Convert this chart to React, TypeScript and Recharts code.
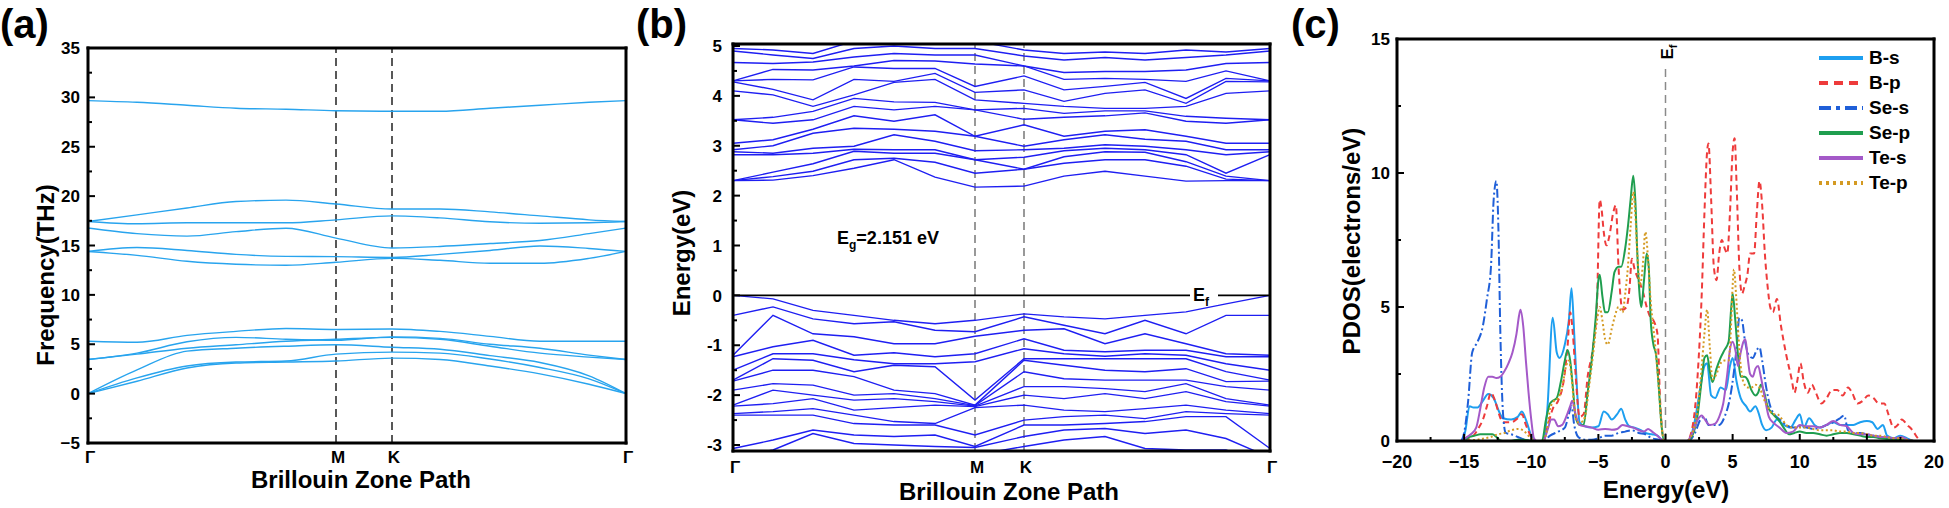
import React from "react";
import { LineChart, Line, XAxis, YAxis, ReferenceLine, Legend } from "recharts";

const W = 1949;
const H = 508;
const FONT = '"Liberation Sans", Arial, Helvetica, sans-serif';
const MINUS = "\u2212";

// ---------- (a) phonon dispersion ----------
const phononK = [0, 49, 99, 148, 198, 248, 304, 352, 402, 452, 501, 538];
const pathTicksA = [0, 248, 304, 538];
const pathLabels = ["Γ", "M", "K", "Γ"];
const phononBands = [
  [0, 1.25, 2.6, 3.1, 3.2, 3.3, 3.6, 3.45, 2.8, 2.0, 0.95, 0],
  [0, 1.6, 2.8, 3.2, 3.3, 4.0, 4.2, 4.1, 3.5, 2.65, 1.5, 0],
  [0, 2.4, 4.3, 4.6, 4.8, 4.95, 4.7, 4.5, 3.85, 3.15, 1.8, 0],
  [3.45, 4.0, 4.6, 4.95, 5.3, 5.5, 5.7, 5.5, 4.8, 4.1, 3.7, 3.45],
  [3.45, 4.1, 5.25, 5.7, 5.5, 5.4, 5.75, 5.6, 5.0, 4.6, 3.9, 3.45],
  [5.3, 5.2, 5.9, 6.3, 6.6, 6.5, 6.55, 6.3, 5.8, 5.3, 5.3, 5.3],
  [14.4, 14.0, 13.4, 13.1, 13.0, 13.3, 13.7, 13.5, 13.2, 13.2, 13.7, 14.4],
  [14.4, 14.8, 14.5, 14.1, 13.9, 13.87, 13.8, 14.1, 14.5, 14.95, 14.7, 14.4],
  [16.77, 16.2, 15.95, 16.4, 16.75, 15.75, 14.75, 14.9, 15.2, 15.5, 16.2, 16.77],
  [17.43, 17.2, 17.3, 17.3, 17.3, 17.6, 18.0, 17.8, 17.4, 17.25, 17.3, 17.43],
  [17.43, 18.1, 18.8, 19.45, 19.6, 19.2, 18.7, 18.7, 18.4, 18.0, 17.6, 17.43],
  [29.67, 29.5, 29.2, 28.9, 28.8, 28.65, 28.6, 28.6, 28.9, 29.2, 29.5, 29.67],
];
const freqTicks = [-5, -2.5, 0, 2.5, 5, 7.5, 10, 12.5, 15, 17.5, 20, 22.5, 25, 27.5, 30, 32.5, 35];

// ---------- (b) electronic band structure ----------
const bandK = [0, 40, 80, 121, 161, 202, 242, 291, 331, 372, 412, 453, 493, 537];
const pathTicksB = [0, 242, 291, 537];
// energies at each k-point (rows follow bandK)
const conductionByK = [
  [2.3, 2.3, 2.3, 2.82, 2.88, 2.92, 3.05, 3.52, 3.52, 4.1, 4.28, 4.3, 4.3, 4.67, 4.9, 4.95],
  [2.31, 2.38, 2.47, 2.82, 2.85, 3.0, 3.12, 3.45, 3.57, 4.02, 4.13, 4.33, 4.53, 4.65, 4.82, 4.92],
  [2.4, 2.49, 2.64, 2.85, 2.95, 3.25, 3.33, 3.52, 3.69, 3.79, 3.92, 4.32, 4.52, 4.68, 4.75, 4.85],
  [2.55, 2.72, 2.89, 2.93, 2.99, 3.35, 3.6, 3.79, 3.95, 4.02, 4.33, 4.58, 4.6, 4.78, 4.95, 5.1],
  [2.72, 2.75, 2.85, 2.92, 3.22, 3.33, 3.49, 3.72, 3.88, 4.27, 4.29, 4.55, 4.71, 4.85, 5.0, 5.1],
  [2.37, 2.67, 2.85, 2.92, 3.09, 3.29, 3.62, 3.79, 3.87, 4.33, 4.45, 4.55, 4.7, 4.82, 4.95, 5.1],
  [2.17, 2.45, 2.72, 2.72, 2.9, 3.19, 3.19, 3.72, 3.72, 3.92, 4.07, 4.19, 4.64, 4.82, 4.95, 5.1],
  [2.19, 2.53, 2.53, 2.77, 2.92, 2.99, 3.42, 3.53, 3.75, 3.85, 4.12, 4.4, 4.6, 4.6, 4.8, 4.92],
  [2.39, 2.65, 2.78, 2.9, 2.95, 3.12, 3.19, 3.57, 3.65, 3.79, 3.89, 4.12, 4.33, 4.47, 4.72, 4.85],
  [2.49, 2.72, 2.88, 2.95, 3.02, 3.22, 3.29, 3.6, 3.7, 3.75, 4.05, 4.19, 4.35, 4.49, 4.77, 4.88],
  [2.39, 2.72, 2.87, 2.92, 2.99, 3.13, 3.32, 3.66, 3.7, 3.75, 4.12, 4.27, 4.33, 4.49, 4.72, 4.85],
  [2.29, 2.59, 2.68, 2.82, 2.92, 3.09, 3.19, 3.49, 3.59, 3.79, 3.85, 3.95, 4.29, 4.52, 4.77, 4.92],
  [2.3, 2.33, 2.39, 2.45, 2.82, 2.92, 3.05, 3.45, 3.55, 4.05, 4.29, 4.35, 4.5, 4.65, 4.82, 4.88],
  [2.3, 2.3, 2.3, 2.82, 2.88, 2.92, 3.05, 3.52, 3.52, 4.1, 4.28, 4.3, 4.3, 4.67, 4.9, 4.95],
];
const valenceByK = [
  [0, -0.4, -1.2, -1.23, -1.5, -1.7, -1.72, -1.9, -2.2, -2.22, -2.37, -2.4, -3.07, -3.25, -3.4],
  [-0.07, -0.23, -0.4, -1.03, -1.17, -1.27, -1.5, -1.77, -1.9, -2.17, -2.33, -2.4, -2.9, -3.1, -3.3],
  [-0.3, -0.47, -0.77, -0.9, -1.17, -1.3, -1.5, -1.8, -2.0, -2.07, -2.27, -2.4, -2.7, -2.77, -3.2],
  [-0.4, -0.57, -0.83, -1.2, -1.29, -1.53, -1.63, -2.0, -2.1, -2.3, -2.4, -2.57, -2.8, -2.97, -3.2],
  [-0.5, -0.53, -0.97, -1.15, -1.37, -1.4, -1.9, -1.97, -2.07, -2.25, -2.53, -2.6, -2.83, -3.0, -3.2],
  [-0.57, -0.7, -0.97, -1.23, -1.37, -1.43, -1.97, -2.07, -2.13, -2.2, -2.57, -2.6, -2.8, -3.03, -3.2],
  [-0.5, -0.73, -0.82, -1.17, -1.33, -2.1, -2.2, -2.21, -2.22, -2.23, -2.25, -2.8, -3.03, -3.05, -3.2],
  [-0.37, -0.43, -0.7, -0.87, -1.07, -1.27, -1.3, -1.53, -1.83, -2.0, -2.2, -2.5, -2.6, -2.83, -3.03],
  [-0.43, -0.6, -0.67, -1.1, -1.17, -1.27, -1.4, -1.67, -1.83, -2.07, -2.3, -2.43, -2.6, -2.7, -2.9],
  [-0.47, -0.77, -0.97, -1.13, -1.22, -1.27, -1.5, -1.7, -1.87, -1.97, -2.33, -2.4, -2.57, -2.67, -2.83],
  [-0.4, -0.5, -0.77, -1.1, -1.17, -1.27, -1.53, -1.7, -1.93, -2.07, -2.27, -2.47, -2.53, -2.77, -3.07],
  [-0.33, -0.77, -0.97, -1.1, -1.2, -1.27, -1.47, -1.7, -1.77, -1.93, -2.2, -2.33, -2.43, -2.7, -3.1],
  [-0.17, -0.4, -1.17, -1.23, -1.37, -1.53, -1.73, -1.83, -2.07, -2.13, -2.3, -2.37, -2.43, -2.87, -3.1],
  [0, -0.4, -1.2, -1.23, -1.5, -1.7, -1.72, -1.9, -2.2, -2.22, -2.37, -2.4, -3.07, -3.25, -3.4],
];
const energyTicks = [-3, -2.5, -2, -1.5, -1, -0.5, 0, 0.5, 1, 1.5, 2, 2.5, 3, 3.5, 4, 4.5, 5];

// ---------- (c) projected DOS: [energy, states] ----------
const bS = [
  [-15.1, 0], [-14.9, 0.4], [-14.6, 1.3], [-14.3, 1.25], [-14.0, 1.25], [-13.6, 1.5], [-13.2, 1.75], [-12.8, 1.6],
  [-12.4, 1.1], [-12.1, 0.85], [-11.5, 0.8], [-11.0, 0.9], [-10.7, 1.1], [-10.4, 0.8], [-10.0, 0.2], [-9.7, 0],
  [-9.1, 0], [-8.8, 1.2], [-8.4, 4.6], [-8.1, 3.3], [-7.9, 3.1], [-7.5, 3.6], [-7.2, 4.5], [-7.0, 5.7], [-6.8, 4.0],
  [-6.6, 2.0], [-6.4, 0.7], [-6.0, 0.55], [-5.5, 0.5], [-5.0, 0.55], [-4.6, 1.1], [-4.3, 1.0], [-4.0, 0.8], [-3.6, 1.0],
  [-3.3, 1.2], [-3.0, 0.8], [-2.7, 0.55], [-2.3, 0.5], [-1.8, 0.4], [-1.5, 0.3], [-1.0, 0.25], [-0.6, 0.2], [-0.3, 0.05],
  [0, 0], [1.7, 0], [2.2, 0.8], [2.6, 2.0], [2.9, 2.8], [3.1, 2.9], [3.4, 1.7], [3.7, 1.6], [4.1, 2.0], [4.5, 1.9],
  [4.8, 2.8], [5.0, 3.1], [5.3, 2.2], [5.6, 1.6], [6.0, 1.3], [6.3, 1.1], [6.7, 1.3], [6.9, 1.1], [7.2, 0.6], [7.5, 0.4],
  [7.9, 0.5], [8.3, 0.8], [8.8, 0.6], [9.3, 0.5], [9.7, 0.8], [10.0, 1.0], [10.3, 0.5], [10.7, 0.85], [11.1, 0.6],
  [11.5, 0.5], [12.0, 0.6], [12.5, 0.7], [13.0, 0.6], [13.5, 0.6], [14.0, 0.6], [14.5, 0.7], [15.0, 0.75], [15.4, 0.7],
  [15.8, 0.45], [16.2, 0.6], [16.5, 0.2], [17.0, 0.1], [17.5, 0.2], [18.0, 0.1], [18.4, 0],
];
const bP = [
  [-15.0, 0], [-14.6, 0.1], [-14.3, 0.2], [-13.9, 0.5], [-13.6, 0.8], [-13.3, 1.3], [-13.0, 1.8], [-12.7, 1.5],
  [-12.4, 1.0], [-12.1, 0.7], [-11.5, 0.7], [-11.0, 0.85], [-10.7, 1.0], [-10.4, 0.6], [-10.0, 0.15], [-9.7, 0],
  [-9.1, 0], [-8.8, 0.5], [-8.4, 1.2], [-8.0, 1.5], [-7.6, 2.2], [-7.3, 3.5], [-7.1, 4.8], [-6.9, 4.0], [-6.7, 2.5],
  [-6.4, 0.9], [-6.1, 1.0], [-5.8, 2.4], [-5.4, 3.5], [-5.1, 5.2], [-4.9, 9.0], [-4.75, 8.6], [-4.6, 7.8], [-4.4, 7.3],
  [-4.2, 7.6], [-3.9, 8.5], [-3.7, 8.8], [-3.5, 6.5], [-3.2, 4.9], [-2.9, 5.0], [-2.7, 5.6], [-2.5, 6.8], [-2.3, 6.4],
  [-2.0, 6.0], [-1.7, 5.6], [-1.4, 5.0], [-1.2, 4.7], [-0.9, 4.5], [-0.6, 4.0], [-0.4, 1.5], [-0.1, 0],
  [1.6, 0], [2.0, 0.5], [2.4, 2.5], [2.7, 5.5], [2.9, 8.5], [3.1, 10.8], [3.2, 11.1], [3.4, 9.0], [3.6, 6.5], [3.8, 6.0],
  [4.0, 7.0], [4.2, 7.5], [4.4, 7.2], [4.6, 7.0], [4.8, 8.5], [5.0, 10.8], [5.15, 11.3], [5.3, 9.5], [5.5, 6.5],
  [5.7, 5.5], [5.9, 5.8], [6.1, 6.2], [6.3, 7.0], [6.6, 7.0], [6.8, 8.5], [7.0, 9.7], [7.2, 8.8], [7.4, 7.0], [7.6, 5.8],
  [7.8, 5.0], [8.0, 4.8], [8.3, 5.3], [8.6, 4.3], [9.0, 3.2], [9.4, 2.3], [9.6, 1.8], [9.8, 2.2], [10.05, 2.9],
  [10.3, 2.2], [10.6, 1.8], [10.9, 2.1], [11.2, 1.8], [11.6, 1.4], [12.0, 1.6], [12.4, 1.9], [12.8, 1.9], [13.2, 1.7],
  [13.6, 2.0], [13.9, 1.8], [14.3, 1.4], [14.7, 1.5], [15.1, 1.7], [15.5, 1.6], [15.9, 1.4], [16.3, 1.4], [16.6, 1.0],
  [17.0, 0.5], [17.3, 0.6], [17.6, 0.8], [18.0, 0.6], [18.4, 0.4], [18.8, 0.1], [19.0, 0], [20.0, 0],
];
const seS = [
  [-15.2, 0], [-15.0, 0.3], [-14.7, 1.5], [-14.4, 3.3], [-14.0, 3.7], [-13.6, 4.3], [-13.3, 5.3], [-13.0, 6.5],
  [-12.8, 9.0], [-12.6, 9.7], [-12.45, 8.0], [-12.3, 4.0], [-12.1, 1.0], [-11.9, 0.3], [-11.5, 0.25], [-11.0, 0.15],
  [-10.5, 0.05], [-10.0, 0], [-9.1, 0], [-8.6, 0.2], [-8.0, 0.35], [-7.5, 0.5], [-7.2, 1.0], [-7.0, 1.3], [-6.8, 0.6],
  [-6.5, 0.15], [-6.0, 0.05], [-5.5, 0.05], [-5.0, 0.1], [-4.5, 0.2], [-4.0, 0.2], [-3.5, 0.3], [-3.0, 0.35],
  [-2.5, 0.4], [-2.0, 0.3], [-1.5, 0.25], [-1.0, 0.1], [-0.5, 0.05], [0, 0],
  [1.7, 0], [2.2, 0.3], [2.6, 0.8], [2.9, 0.9], [3.2, 0.6], [3.6, 0.6], [4.0, 0.6], [4.4, 0.9], [4.8, 1.6], [5.1, 2.6],
  [5.3, 3.5], [5.5, 4.6], [5.7, 4.5], [5.9, 3.8], [6.2, 3.2], [6.5, 3.1], [6.8, 3.4], [7.0, 3.5], [7.2, 3.0], [7.5, 2.0],
  [7.8, 1.3], [8.1, 1.0], [8.5, 0.8], [9.0, 0.6], [9.5, 0.5], [10.0, 0.55], [10.5, 0.5], [11.0, 0.45], [11.5, 0.5],
  [12.0, 0.6], [12.5, 0.7], [13.0, 0.85], [13.3, 0.95], [13.6, 0.4], [14.0, 0.3], [14.5, 0.3], [15.0, 0.25],
  [15.5, 0.2], [16.0, 0.15], [17.0, 0.1], [18.0, 0.05], [18.5, 0],
];
const seP = [
  [-15.0, 0], [-14.6, 0.15], [-14.2, 0.2], [-13.8, 0.25], [-13.3, 0.25], [-12.9, 0.25], [-12.6, 0.15], [-12.3, 0.02],
  [-12.0, 0], [-11.5, 0], [-11.0, 0.05], [-10.5, 0.05], [-10.0, 0], [-9.2, 0], [-8.9, 0.8], [-8.6, 1.4], [-8.4, 1.5],
  [-8.1, 1.6], [-7.8, 2.2], [-7.5, 3.0], [-7.3, 3.4], [-7.1, 3.0], [-6.9, 2.0], [-6.7, 0.9], [-6.4, 0.6], [-6.1, 0.6],
  [-5.8, 1.8], [-5.5, 3.0], [-5.2, 4.6], [-5.0, 6.0], [-4.9, 6.2], [-4.7, 5.4], [-4.5, 4.8], [-4.3, 4.8], [-4.0, 5.6],
  [-3.8, 6.3], [-3.5, 6.5], [-3.3, 6.5], [-3.0, 7.2], [-2.8, 8.0], [-2.6, 9.0], [-2.4, 9.9], [-2.25, 9.0], [-2.1, 7.0],
  [-1.9, 5.3], [-1.8, 5.0], [-1.6, 6.0], [-1.4, 7.0], [-1.25, 6.5], [-1.1, 4.5], [-0.9, 3.6], [-0.7, 3.2], [-0.5, 2.0],
  [-0.3, 0.6], [-0.1, 0],
  [1.6, 0], [2.0, 0.2], [2.4, 1.0], [2.7, 2.3], [2.9, 3.1], [3.1, 3.2], [3.3, 2.6], [3.5, 2.2], [3.8, 2.7], [4.1, 3.1],
  [4.4, 3.4], [4.7, 3.7], [4.9, 5.0], [5.0, 5.5], [5.2, 4.5], [5.4, 3.2], [5.6, 2.4], [5.9, 2.4], [6.1, 2.3], [6.4, 1.9],
  [6.7, 1.7], [6.9, 1.8], [7.1, 2.1], [7.3, 1.9], [7.6, 1.3], [8.0, 1.0], [8.4, 0.8], [8.8, 0.5], [9.2, 0.25], [9.6, 0.3],
  [10.0, 0.35], [10.5, 0.3], [11.0, 0.3], [11.5, 0.25], [12.0, 0.2], [12.5, 0.25], [13.0, 0.3], [13.5, 0.3],
  [14.0, 0.25], [14.5, 0.2], [15.0, 0.15], [15.5, 0.15], [16.0, 0.1], [17.0, 0.05], [18.0, 0.02], [18.5, 0],
];
const teS = [
  [-15.1, 0], [-14.8, 0.15], [-14.5, 0.25], [-14.1, 0.5], [-13.8, 1.2], [-13.5, 2.0], [-13.2, 2.4], [-12.9, 2.4],
  [-12.6, 2.35], [-12.3, 2.4], [-12.0, 2.6], [-11.7, 2.9], [-11.4, 3.3], [-11.1, 4.0], [-10.9, 4.7], [-10.8, 4.9],
  [-10.6, 4.3], [-10.4, 3.0], [-10.2, 1.8], [-10.0, 0.8], [-9.8, 0.1], [-9.6, 0],
  [-9.1, 0], [-8.8, 0.4], [-8.5, 0.8], [-8.3, 0.8], [-8.0, 0.55], [-7.7, 0.6], [-7.4, 0.9], [-7.1, 1.3], [-6.95, 1.5],
  [-6.7, 1.0], [-6.4, 0.6], [-6.0, 0.55], [-5.5, 0.5], [-5.0, 0.42], [-4.5, 0.45], [-4.0, 0.42], [-3.6, 0.45],
  [-3.2, 0.6], [-2.8, 0.55], [-2.4, 0.5], [-2.0, 0.4], [-1.6, 0.35], [-1.3, 0.45], [-1.0, 0.35], [-0.6, 0.2],
  [-0.3, 0.05], [0, 0],
  [1.6, 0], [2.0, 0.3], [2.4, 0.8], [2.7, 0.95], [3.0, 0.75], [3.3, 0.6], [3.7, 0.65], [4.0, 0.9], [4.3, 1.4], [4.6, 2.5],
  [4.8, 3.4], [5.0, 3.7], [5.2, 3.4], [5.4, 2.8], [5.6, 3.3], [5.8, 3.7], [5.95, 3.8], [6.1, 3.2], [6.3, 2.5], [6.5, 2.4],
  [6.7, 2.7], [6.9, 2.8], [7.1, 2.4], [7.4, 1.6], [7.7, 0.9], [8.0, 0.7], [8.5, 0.5], [9.0, 0.3], [9.5, 0.35],
  [10.0, 0.6], [10.5, 0.55], [11.0, 0.55], [11.5, 0.5], [12.0, 0.6], [12.5, 0.75], [13.0, 0.6], [13.5, 0.55],
  [14.0, 0.3], [14.5, 0.25], [15.0, 0.25], [15.5, 0.2], [16.0, 0.15], [16.5, 0.15], [17.0, 0.1], [17.6, 0.15],
  [18.0, 0.05], [18.4, 0],
];
const teP = [
  [-15.0, 0], [-14.5, 0.03], [-14.0, 0.05], [-13.5, 0.1], [-13.0, 0.15], [-12.5, 0.25], [-12.0, 0.3], [-11.5, 0.4],
  [-11.0, 0.45], [-10.6, 0.4], [-10.3, 0.25], [-10.0, 0.1], [-9.7, 0],
  [-9.1, 0], [-8.8, 0.5], [-8.6, 1.2], [-8.3, 1.5], [-8.0, 1.6], [-7.7, 2.0], [-7.4, 2.8], [-7.2, 3.0], [-7.0, 2.4],
  [-6.8, 1.3], [-6.6, 0.7], [-6.3, 0.7], [-6.0, 0.9], [-5.7, 2.0], [-5.4, 3.2], [-5.1, 4.5], [-4.9, 5.0], [-4.7, 4.5],
  [-4.5, 3.8], [-4.3, 3.6], [-4.0, 4.2], [-3.8, 4.6], [-3.5, 5.0], [-3.2, 4.8], [-3.0, 5.5], [-2.8, 6.5], [-2.6, 8.0],
  [-2.4, 9.3], [-2.25, 8.5], [-2.1, 7.0], [-1.9, 5.8], [-1.7, 6.5], [-1.5, 7.8], [-1.3, 6.8], [-1.1, 5.2], [-0.9, 4.2],
  [-0.7, 3.2], [-0.5, 2.0], [-0.3, 0.6], [-0.1, 0],
  [1.6, 0], [2.0, 0.3], [2.4, 1.2], [2.7, 2.8], [2.9, 4.0], [3.1, 4.9], [3.3, 3.5], [3.5, 2.3], [3.8, 2.5], [4.1, 2.9],
  [4.4, 3.0], [4.7, 3.0], [4.9, 4.5], [5.0, 5.8], [5.1, 6.4], [5.25, 5.5], [5.4, 4.2], [5.6, 2.8], [5.8, 2.2], [6.1, 2.0],
  [6.4, 2.0], [6.7, 2.1], [7.0, 2.0], [7.3, 1.6], [7.7, 1.2], [8.0, 1.0], [8.3, 1.0], [8.7, 0.8], [9.0, 0.6], [9.5, 0.5],
  [10.0, 0.5], [10.5, 0.5], [11.0, 0.45], [11.5, 0.4], [12.0, 0.4], [12.5, 0.4], [13.0, 0.35], [13.5, 0.35],
  [14.0, 0.3], [14.5, 0.3], [15.0, 0.25], [15.5, 0.2], [16.0, 0.2], [16.5, 0.15], [17.0, 0.1], [17.5, 0.1],
  [18.0, 0.05], [18.5, 0],
];
const pdosXTicks = [-20, -17.5, -15, -12.5, -10, -7.5, -5, -2.5, 0, 2.5, 5, 7.5, 10, 12.5, 15, 17.5, 20];
const pdosYTicks = [0, 2.5, 5, 7.5, 10, 12.5, 15];

const pdosSeries = [
  { name: "B-s", data: bS, color: "#1d9ff0", dash: undefined, legendDash: undefined },
  { name: "B-p", data: bP, color: "#ee3b3b", dash: "6 4", legendDash: "9 6" },
  { name: "Se-s", data: seS, color: "#1f5fd8", dash: "9 3 2 3", legendDash: "12 5 4 5" },
  { name: "Se-p", data: seP, color: "#1f9e4f", dash: undefined, legendDash: undefined },
  { name: "Te-s", data: teS, color: "#a459c8", dash: undefined, legendDash: undefined },
  { name: "Te-p", data: teP, color: "#d49a22", dash: "2 2.5", legendDash: "3 4" },
];

// ---------- layout ----------
// plot boxes; every axis is 1px wide/high, so the margins give way by 1px
type Box = { left: number; top: number; right: number; bottom: number };
const boxA: Box = { left: 88, top: 48, right: 626, bottom: 443 };
const boxB: Box = { left: 733, top: 44, right: 1270, bottom: 451 };
const boxC: Box = { left: 1397, top: 39, right: 1934, bottom: 441 };
const marginOf = (b: Box) => ({ top: b.top - 1, left: b.left - 1, right: W - b.right - 1, bottom: H - b.bottom - 1 });

const phononData = phononK.map((k, i) => {
  const row: Record<string, number> = { k };
  phononBands.forEach((band, j) => (row[`p${j}`] = band[i]));
  return row;
});
const bandData = bandK.map((k, i) => {
  const row: Record<string, number> = { k };
  conductionByK[i].forEach((e, j) => (row[`c${j}`] = e));
  valenceByK[i].forEach((e, j) => (row[`v${j}`] = e));
  return row;
});
const toRows = (pts: number[][]) => pts.map(([e, d]) => ({ e, d }));

const frameLine = { stroke: "#000", strokeWidth: 3, strokeLinecap: "square" };
const tickFont = { fontFamily: FONT, fontSize: 17, fontWeight: 700, fill: "#000" };
const isStep = (v: number, step: number) => Math.abs(v / step - Math.round(v / step)) < 1e-6;
const fmtMinus = (v: number) => (v < 0 ? MINUS + Math.abs(v) : String(v));
const fmtHyphen = (v: number) => String(v);

const leftTick = (step: number, fmt: (v: number) => string, gap: number) => (p: any) => {
  const v = p.payload.value;
  const major = isStep(v, step);
  return (
    <g>
      <line x1={p.x} y1={p.y} x2={p.x + (major ? 7 : 4)} y2={p.y} stroke="#000" strokeWidth={2} />
      {major && (
        <text x={p.x - gap} y={p.y} dy="0.36em" textAnchor="end" {...tickFont}>
          {fmt(v)}
        </text>
      )}
    </g>
  );
};
const rightTick = (step: number) => (p: any) => {
  const major = isStep(p.payload.value, step);
  return <line x1={p.x} y1={p.y} x2={p.x - (major ? 7 : 4)} y2={p.y} stroke="#000" strokeWidth={2} />;
};
const bottomTick = (step: number, fmt: (v: number) => string) => (p: any) => {
  const v = p.payload.value;
  const major = isStep(v, step);
  return (
    <g>
      <line x1={p.x} y1={p.y} x2={p.x} y2={p.y - (major ? 7 : 4)} stroke="#000" strokeWidth={2} />
      {major && (
        <text x={p.x} y={p.y + 27} textAnchor="middle" {...tickFont} fontSize={18}>
          {fmt(v)}
        </text>
      )}
    </g>
  );
};
const topTick = (step: number) => (p: any) => {
  const major = isStep(p.payload.value, step);
  return <line x1={p.x} y1={p.y} x2={p.x} y2={p.y + (major ? 7 : 4)} stroke="#000" strokeWidth={2} />;
};
const pathTick = (dy: number) => (p: any) => (
  <text x={p.x + 2} y={p.y + dy} textAnchor="middle" {...tickFont} fontSize={17}>
    {pathLabels[p.index]}
  </text>
);

const axisBase = { tickSize: 0, tickMargin: 0, tickLine: false, interval: 0 as const, axisLine: frameLine };

function PdosLegend() {
  return (
    <div style={{ fontFamily: FONT, fontWeight: 700, fontSize: 19, color: "#000" }}>
      {pdosSeries.map((s) => (
        <div key={s.name} style={{ display: "flex", alignItems: "center", height: 25 }}>
          <svg width={46} height={10}>
            <line x1={1} y1={5} x2={45} y2={5} stroke={s.color} strokeWidth={4} strokeDasharray={s.legendDash} />
          </svg>
          <span style={{ marginLeft: 5 }}>{s.name}</span>
        </div>
      ))}
    </div>
  );
}

const titleStyle = { fontFamily: FONT, fontWeight: 700, fill: "#000" };

export default function App() {
  return (
    <div style={{ position: "absolute", left: 0, top: 0, width: W, height: H, background: "#fff", overflow: "hidden" }}>
      {/* (a) phonon bands */}
      <div style={{ position: "absolute", left: 0, top: 0 }}>
        <LineChart width={W} height={H} data={phononData} margin={marginOf(boxA)}>
          <XAxis dataKey="k" type="number" domain={[0, 538]} ticks={pathTicksA} height={1} {...axisBase} tick={pathTick(20)} />
          <XAxis xAxisId="top" orientation="top" dataKey="k" type="number" domain={[0, 538]} height={1} {...axisBase} tick={false} />
          <YAxis type="number" domain={[-5, 35]} ticks={freqTicks} width={1} {...axisBase} tick={leftTick(5, fmtMinus, 8)} />
          <YAxis yAxisId="r" orientation="right" type="number" domain={[-5, 35]} ticks={freqTicks} width={1} {...axisBase} tick={rightTick(5)} />
          <ReferenceLine x={pathTicksA[1]} stroke="#222" strokeDasharray="8 5" strokeWidth={1.5} />
          <ReferenceLine x={pathTicksA[2]} stroke="#222" strokeDasharray="8 5" strokeWidth={1.5} />
          {phononBands.map((_, j) => (
            <Line key={j} dataKey={`p${j}`} type="monotone" stroke="#28a4ee" strokeWidth={1.4} dot={false} activeDot={false} isAnimationActive={false} />
          ))}
        </LineChart>
      </div>

      {/* (b) electronic bands */}
      <div style={{ position: "absolute", left: 0, top: 0 }}>
        <LineChart width={W} height={H} data={bandData} margin={marginOf(boxB)}>
          <XAxis dataKey="k" type="number" domain={[0, 537]} ticks={pathTicksB} height={1} {...axisBase} tick={pathTick(22)} />
          <XAxis xAxisId="top" orientation="top" dataKey="k" type="number" domain={[0, 537]} height={1} {...axisBase} tick={false} />
          <YAxis type="number" domain={[-3.12, 5.04]} allowDataOverflow ticks={energyTicks} width={1} {...axisBase} tick={leftTick(1, fmtHyphen, 11)} />
          <YAxis yAxisId="r" orientation="right" type="number" domain={[-3.12, 5.04]} ticks={energyTicks} width={1} {...axisBase} tick={rightTick(1)} />
          <ReferenceLine x={pathTicksB[1]} stroke="#6e6e6e" strokeDasharray="8 5" strokeWidth={1.4} />
          <ReferenceLine x={pathTicksB[2]} stroke="#6e6e6e" strokeDasharray="8 5" strokeWidth={1.4} />
          {conductionByK[0].map((_, j) => (
            <Line key={`c${j}`} dataKey={`c${j}`} type="linear" stroke="#1e1ef2" strokeWidth={1.4} dot={false} activeDot={false} isAnimationActive={false} />
          ))}
          {valenceByK[0].map((_, j) => (
            <Line key={`v${j}`} dataKey={`v${j}`} type="linear" stroke="#1e1ef2" strokeWidth={1.4} dot={false} activeDot={false} isAnimationActive={false} />
          ))}
          <ReferenceLine y={0} stroke="#000" strokeWidth={1.6} />
        </LineChart>
      </div>

      {/* (c) PDOS */}
      <div style={{ position: "absolute", left: 0, top: 0 }}>
        <LineChart width={W} height={H} margin={marginOf(boxC)}>
          <XAxis dataKey="e" type="number" domain={[-20, 20]} ticks={pdosXTicks} height={1} {...axisBase} tick={bottomTick(5, fmtMinus)} />
          <XAxis xAxisId="top" orientation="top" dataKey="e" type="number" domain={[-20, 20]} ticks={pdosXTicks} height={1} {...axisBase} tick={topTick(5)} />
          <YAxis type="number" domain={[0, 15]} ticks={pdosYTicks} width={1} {...axisBase} tick={leftTick(5, fmtMinus, 7)} />
          <YAxis yAxisId="r" orientation="right" type="number" domain={[0, 15]} ticks={pdosYTicks} width={1} {...axisBase} tick={rightTick(5)} />
          <ReferenceLine segment={[{ x: 0, y: 0 }, { x: 0, y: 14 }]} stroke="#8a8a8a" strokeDasharray="8 5" strokeWidth={1.5} />
          {pdosSeries.map((s) => (
            <Line
              key={s.name}
              name={s.name}
              data={toRows(s.data)}
              dataKey="d"
              type="monotone"
              stroke={s.color}
              strokeWidth={2}
              strokeDasharray={s.dash}
              dot={false}
              activeDot={false}
              isAnimationActive={false}
            />
          ))}
          <Legend
            layout="vertical"
            align="center"
            verticalAlign="middle"
            wrapperStyle={{ left: 1818, top: 45, width: 125 }}
            content={() => <PdosLegend />}
          />
        </LineChart>
      </div>

      {/* titles and annotations */}
      <svg width={W} height={H} style={{ position: "absolute", left: 0, top: 0, pointerEvents: "none" }}>
        <g {...titleStyle} fontSize={40}>
          <text x={0} y={38}>(a)</text>
          <text x={636} y={38}>(b)</text>
          <text x={1291} y={38}>(c)</text>
        </g>
        <g {...titleStyle} fontSize={24} textAnchor="middle">
          <text x={54} y={275} transform="rotate(-90 54 275)">Frequency(THz)</text>
          <text x={361} y={488}>Brillouin Zone Path</text>
          <text x={690} y={253} transform="rotate(-90 690 253)">Energy(eV)</text>
          <text x={1009} y={500}>Brillouin Zone Path</text>
          <text x={1360} y={241} transform="rotate(-90 1360 241)">PDOS(electrons/eV)</text>
          <text x={1666} y={498}>Energy(eV)</text>
        </g>
        <text x={837} y={244} {...titleStyle} fontSize={18}>
          E<tspan fontSize={12} dy={5}>g</tspan>
          <tspan dy={-5}>=2.151 eV</tspan>
        </text>
        <rect x={1190} y={285} width={28} height={20} fill="#fff" />
        <text x={1193} y={301} {...titleStyle} fontSize={18}>
          E<tspan fontSize={12} dy={5}>f</tspan>
        </text>
        <text x={1673} y={52} transform="rotate(-90 1673 52)" textAnchor="middle" {...titleStyle} fontSize={17}>
          E<tspan fontSize={11} dy={4}>f</tspan>
        </text>
      </svg>
    </div>
  );
}
